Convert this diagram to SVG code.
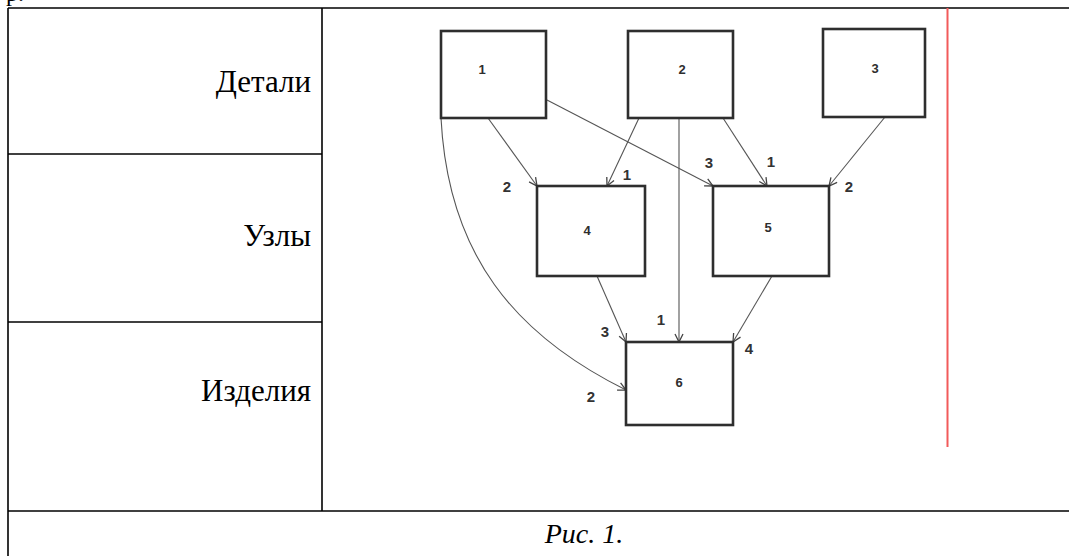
<svg xmlns="http://www.w3.org/2000/svg" width="1069" height="556" viewBox="0 0 1069 556">
  <style>
    .grid { stroke: #000; stroke-width: 1.6; fill: none; }
    .row { font-family: "Liberation Serif", "Times New Roman", serif; font-size: 31px; fill: #000; text-anchor: end; }
    .cap { font-family: "Liberation Serif", "Times New Roman", serif; font-size: 28px; font-style: italic; fill: #000; text-anchor: middle; }
    .box { fill: #fff; stroke: #2e2e2e; stroke-width: 2.6; }
    .num { font-family: "Liberation Sans", Arial, sans-serif; font-size: 13px; font-weight: bold; fill: #2e2e2e; text-anchor: middle; dominant-baseline: central; }
    .edge { fill: none; stroke: #555; stroke-width: 1.1; marker-end: url(#arr); }
    .lab { font-family: "Liberation Sans", Arial, sans-serif; font-size: 15px; font-weight: bold; fill: #333; text-anchor: middle; dominant-baseline: central; }
  </style>
  <defs>
    <marker id="arr" viewBox="0 0 10 10" refX="9" refY="5" markerWidth="10" markerHeight="10" markerUnits="userSpaceOnUse" orient="auto">
      <polyline points="1,1 9,5 1,9" fill="none" stroke="#444" stroke-width="1.3"/>
    </marker>
  </defs>
  <rect width="1069" height="556" fill="#fff"/>

  <!-- tail of the preceding line of text -->
  <text x="6" y="1" style="font-family:'Liberation Serif',serif;font-size:24px;fill:#000">р.</text>

  <!-- table frame -->
  <g id="table">
    <line class="grid" x1="8" y1="8" x2="1069" y2="8"/>
    <line class="grid" x1="8" y1="8" x2="8" y2="556"/>
    <line class="grid" x1="322" y1="8" x2="322" y2="511"/>
    <line class="grid" x1="8" y1="154" x2="322" y2="154"/>
    <line class="grid" x1="8" y1="322" x2="322" y2="322"/>
    <line class="grid" x1="8" y1="511" x2="1069" y2="511"/>
    <text class="row" x="311" y="92">Детали</text>
    <text class="row" x="311" y="246">Узлы</text>
    <text class="row" x="311" y="401">Изделия</text>
    <text class="cap" x="584" y="543">Рис. 1.</text>
  </g>

  <!-- red margin line -->
  <line x1="947.5" y1="8" x2="947.5" y2="447" stroke="#f25a5a" stroke-width="2"/>

  <!-- connectors -->
  <g id="connectors">
    <line class="edge" x1="488" y1="118" x2="537" y2="186"/>
    <line class="edge" x1="639" y1="118" x2="607" y2="186"/>
    <line class="edge" x1="547" y1="100" x2="713" y2="186"/>
    <line class="edge" x1="679" y1="118" x2="679" y2="342"/>
    <line class="edge" x1="723" y1="118" x2="767" y2="186"/>
    <line class="edge" x1="885" y1="117" x2="829" y2="186"/>
    <line class="edge" x1="597" y1="276" x2="626" y2="342"/>
    <line class="edge" x1="772" y1="276" x2="733" y2="342"/>
    <path class="edge" d="M441,118 C448,255 515,335 626,390"/>
    <text class="lab" x="507" y="186">2</text>
    <text class="lab" x="627" y="174">1</text>
    <text class="lab" x="709" y="162">3</text>
    <text class="lab" x="771" y="161">1</text>
    <text class="lab" x="849" y="186">2</text>
    <text class="lab" x="605" y="331">3</text>
    <text class="lab" x="661" y="319">1</text>
    <text class="lab" x="749" y="348">4</text>
    <text class="lab" x="591" y="396">2</text>
  </g>

  <!-- nodes -->
  <g id="node-1"><rect class="box" x="441" y="31" width="105" height="87"/><text class="num" x="482" y="69">1</text></g>
  <g id="node-2"><rect class="box" x="628" y="31" width="105" height="87"/><text class="num" x="682" y="69">2</text></g>
  <g id="node-3"><rect class="box" x="823" y="29" width="102" height="88"/><text class="num" x="875" y="68">3</text></g>
  <g id="node-4"><rect class="box" x="537" y="186" width="108" height="90"/><text class="num" x="587" y="230">4</text></g>
  <g id="node-5"><rect class="box" x="713" y="186" width="116" height="90"/><text class="num" x="768" y="227">5</text></g>
  <g id="node-6"><rect class="box" x="626" y="342" width="107" height="83"/><text class="num" x="679" y="382">6</text></g>
</svg>
